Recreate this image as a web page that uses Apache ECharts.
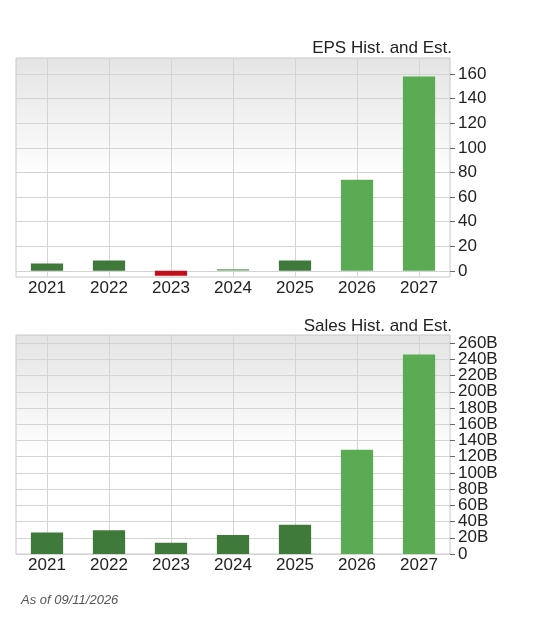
<!DOCTYPE html>
<html><head><meta charset="utf-8">
<script src="https://cdn.jsdelivr.net/npm/echarts@6/dist/echarts.min.js"></script>
<style>html,body{margin:0;padding:0;background:#fff}#c{width:535px;height:623px}</style>
</head><body><div id="c"></div>
<script>
const years = ['2021','2022','2023','2024','2025','2026','2027'];
const epsValues = [6, 8.5, -4, 1.5, 8.5, 74, 158];
const salesValues = [26.4, 29.3, 14, 23.5, 36, 128.4, 246];
const epsTicks = [0,20,40,60,80,100,120,140,160];
const salesTicksA = [0,40,80,120,160,200,240];
const salesTicksB = [20,60,100,140,180,220,260];
const colorKind = ['hist','hist','neg','flat','hist','est','est'];
const salesKind = ['hist','hist','hist','hist','hist','est','est'];
const palette = {hist:'#3f7a3b', est:'#5bab55', neg:'#c20e1a', flat:'#86b982'};

const bg = {type:'linear',x:0,y:0,x2:0,y2:1,colorStops:[{offset:0,color:'#e4e4e4'},{offset:0.55,color:'#ffffff'},{offset:1,color:'#ffffff'}]};
const FONT = 'Liberation Sans';
function grid(top){return {left:16,right:85,top:top,height:219,show:true,backgroundColor:bg,borderColor:'#c8c8c8',borderWidth:1};}
function xAx(i){return {type:'category',gridIndex:i,data:years,boundaryGap:true,
  axisLine:{show:false},axisTick:{show:false},
  axisLabel:{color:'#222',fontSize:17,fontFamily:FONT,margin:3},
  splitLine:{show:false}};}
function yAx(i,min,max,ticks,fmt){return {type:'value',gridIndex:i,position:'right',min:min,max:max,
  axisLine:{show:false},
  axisTick:{show:true,length:5,customValues:ticks,lineStyle:{color:'#666'}},
  axisLabel:{customValues:ticks,color:'#222',fontSize:17,fontFamily:FONT,margin:8,formatter:fmt,
    hideOverlap:false,showMinLabel:true,showMaxLabel:true},
  splitLine:{show:true,lineStyle:{color:'#d4d4d4'}}};}
function vlines(){return {silent:true,z:1,symbol:'none',label:{show:false},lineStyle:{color:'#d4d4d4',type:'solid',width:1},
  data:years.map(y=>({xAxis:y}))};}
const salesFmt = v=>v===0?'0':v+'B';
const chart = echarts.init(document.getElementById('c'));
chart.setOption({
  animation:false,
  title:[
    {text:'EPS Hist. and Est.',right:78,top:35,textStyle:{fontSize:17,fontWeight:'normal',color:'#222',fontFamily:FONT}},
    {text:'Sales Hist. and Est.',right:78,top:313,textStyle:{fontSize:17,fontWeight:'normal',color:'#222',fontFamily:FONT}},
    {text:'As of 09/11/2026',left:16,top:589,textStyle:{fontSize:13,fontWeight:'normal',fontStyle:'italic',color:'#555',fontFamily:FONT}}
  ],
  grid:[grid(58),grid(335)],
  xAxis:[xAx(0),xAx(1)],
  yAxis:[yAx(0,-5,173,epsTicks,v=>String(v)),yAx(1,0,270,salesTicksA,salesFmt),yAx(1,0,270,salesTicksB,salesFmt)],
  series:[
    {type:'bar',xAxisIndex:0,yAxisIndex:0,barWidth:'52%',z:3,markLine:vlines(),
     data:epsValues.map((v,i)=>({value:v,itemStyle:{color:palette[colorKind[i]]}}))},
    {type:'bar',xAxisIndex:1,yAxisIndex:1,barWidth:'52%',z:3,markLine:vlines(),
     data:salesValues.map((v,i)=>({value:v,itemStyle:{color:palette[salesKind[i]]}}))}
  ]
});
</script></body></html>
